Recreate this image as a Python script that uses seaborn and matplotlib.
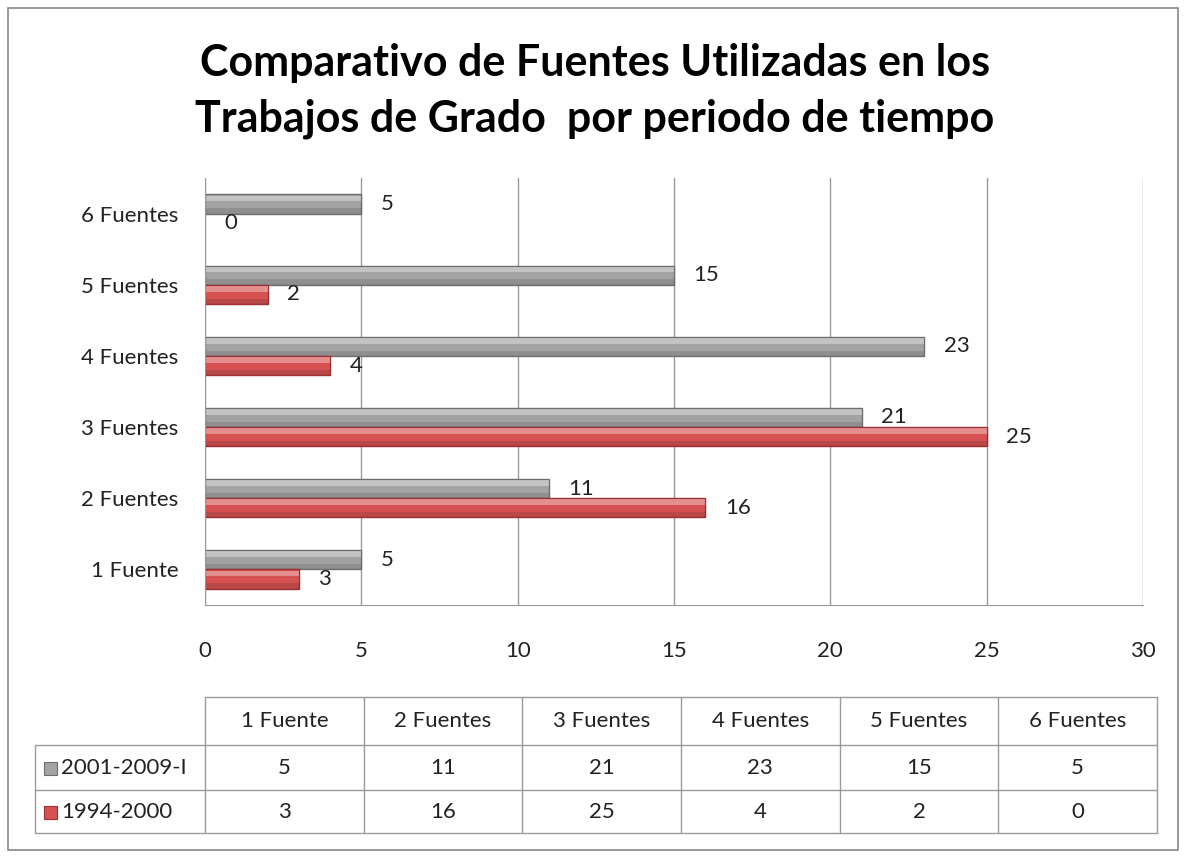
import numpy as np
import pandas as pd
import matplotlib
matplotlib.use("Agg")
import matplotlib.pyplot as plt
import seaborn as sns
from matplotlib.patches import Rectangle

# -------------------------
# Data
# -------------------------
categorias = ["1 Fuente", "2 Fuentes", "3 Fuentes", "4 Fuentes", "5 Fuentes", "6 Fuentes"]
periodos = ["2001-2009-I", "1994-2000"]
valores_2001 = [5, 11, 21, 23, 15, 5]
valores_1994 = [3, 16, 25, 4, 2, 0]
colores = {"2001-2009-I": "#a3a3a3", "1994-2000": "#d65252"}
bordes = {"2001-2009-I": "#6e6e6e", "1994-2000": "#9c3030"}

titulo = "Comparativo de Fuentes Utilizadas en los\nTrabajos de Grado  por periodo de tiempo"
x_ticks = [0, 5, 10, 15, 20, 25, 30]

df = pd.DataFrame({
    "categoria": categorias * 2,
    "periodo": [periodos[0]] * 6 + [periodos[1]] * 6,
    "valor": valores_2001 + valores_1994,
})

sns.set_style("white")
plt.rcParams["font.family"] = ["Lato", "DejaVu Sans"]

W, H = 1187, 857
fig = plt.figure(figsize=(W / 100, H / 100), dpi=100)

# main bar chart
ax = fig.add_axes([205 / W, 1 - 605 / H, (1143 - 205) / W, (605 - 178) / H])
sns.barplot(data=df, y="categoria", x="valor", hue="periodo",
            order=categorias[::-1], hue_order=periodos,
            palette=colores, orient="h", width=0.54, ax=ax,
            legend=False, saturation=1)

for cont, per in zip(ax.containers, periodos):
    for bar in cont:
        x0, y0 = bar.get_x(), bar.get_y()
        w, h = bar.get_width(), bar.get_height()
        if w > 0:
            bar.set_edgecolor(bordes[per])
            bar.set_linewidth(1.0)
            # light top strip + dark bottom strip to mimic the bevel look
            ax.add_patch(Rectangle((x0, y0 + h * 0.06), w, h * 0.3,
                                   facecolor="white", alpha=0.35, lw=0))
            ax.add_patch(Rectangle((x0, y0 + h * 0.72), w, h * 0.28,
                                   facecolor="black", alpha=0.12, lw=0))
        else:
            bar.set_linewidth(0)
    ax.bar_label(cont, padding=14, fontsize=16, color="#222222")

ax.set_xlim(0, 30)
ax.set_ylim(5.5, -0.5)
ax.set_xticks(x_ticks)
ax.xaxis.grid(True, color="#9a9a9a", lw=1)
ax.set_axisbelow(True)
ax.set_xlabel("")
ax.set_ylabel("")
for s in ["top", "right"]:
    ax.spines[s].set_visible(False)
for s in ["left", "bottom"]:
    ax.spines[s].set_color("#9a9a9a")
ax.tick_params(axis="x", labelsize=16, pad=26, length=0, colors="#222222")
ax.tick_params(axis="y", labelsize=16, pad=19, length=0, colors="#222222")

fig.text(595 / W, 1 - 91 / H, titulo, ha="center", va="center",
         fontsize=31, fontweight="bold", linespacing=1.45, color="black")

# data table under the chart
tab = fig.add_axes([0, 0, 1, 1], facecolor="none")
tab.set_xlim(0, W)
tab.set_ylim(H, 0)
tab.axis("off")

col_x = np.linspace(205, 1157, len(categorias) + 1)
row_y = [697, 745, 790, 833]
lc = "#9a9a9a"
# header row
tab.plot([205, 1157], [row_y[0], row_y[0]], color=lc, lw=1)
tab.plot([35, 1157], [row_y[1], row_y[1]], color=lc, lw=1)
tab.plot([35, 1157], [row_y[2], row_y[2]], color=lc, lw=1)
tab.plot([35, 1157], [row_y[3], row_y[3]], color=lc, lw=1)
tab.plot([35, 35], [row_y[1], row_y[3]], color=lc, lw=1)
for x in col_x:
    tab.plot([x, x], [row_y[0], row_y[3]], color=lc, lw=1)

for i, cat in enumerate(categorias):
    cx = (col_x[i] + col_x[i + 1]) / 2
    tab.text(cx, (row_y[0] + row_y[1]) / 2, cat, ha="center", va="center",
             fontsize=16, color="#222222")
    tab.text(cx, (row_y[1] + row_y[2]) / 2, str(valores_2001[i]), ha="center",
             va="center", fontsize=16, color="#222222")
    tab.text(cx, (row_y[2] + row_y[3]) / 2, str(valores_1994[i]), ha="center",
             va="center", fontsize=16, color="#222222")

for j, per in enumerate(periodos):
    yc = (row_y[j + 1] + row_y[j + 2]) / 2
    tab.add_patch(Rectangle((44, yc - 6), 13, 13, facecolor=colores[per],
                            edgecolor=bordes[per], lw=0.8))
    tab.text(61, yc, per, ha="left", va="center", fontsize=16, color="#222222")

# outer frame
tab.add_patch(Rectangle((8, 8), 1170, 842, fill=False, edgecolor="#888888", lw=1.2))

fig.savefig("out.png", dpi=100)
